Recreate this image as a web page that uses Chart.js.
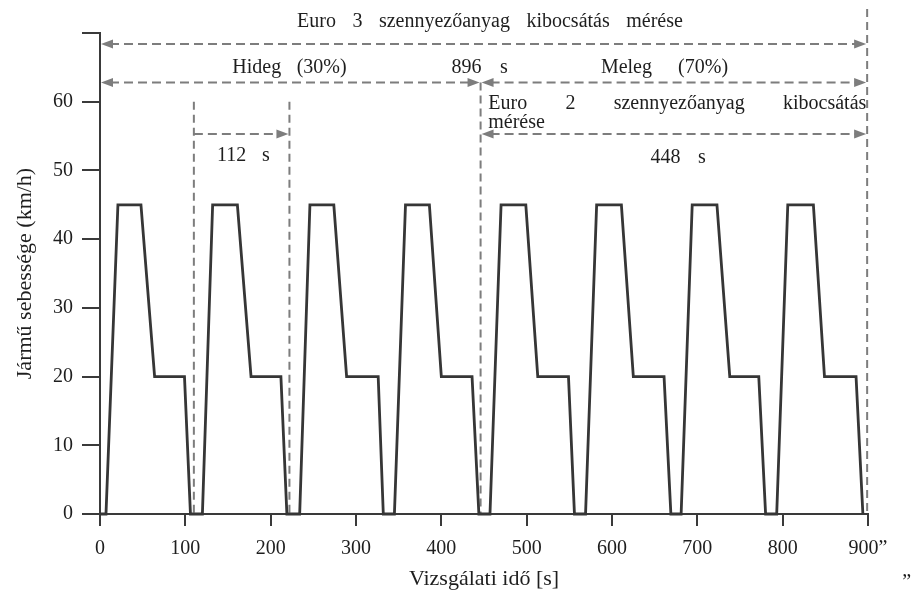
<!DOCTYPE html>
<html><head><meta charset="utf-8">
<script src="https://cdn.jsdelivr.net/npm/chart.js@4.4.1/dist/chart.umd.min.js"></script>
<style>html,body{margin:0;padding:0;background:#fff;}#wrap{width:923px;height:601px;position:relative;}</style>
</head><body><div id="wrap"><canvas id="c" width="923" height="601"></canvas></div>
<script>
// ---- data ----
const timeS = [
  0, 7, 21, 48, 64, 99, 106,
  120, 132, 161, 177, 212, 219,
  234, 246, 274, 289, 326, 332,
  345, 358, 386, 400, 436, 444,
  457, 470, 499, 513, 549, 556,
  569, 582, 611, 625, 661, 669,
  681, 694, 723, 738, 772, 780,
  793, 806, 836, 849, 886, 894
];
const speedKmh = [
  0, 0, 45, 45, 20, 20, 0,
  0, 45, 45, 20, 20, 0,
  0, 45, 45, 20, 20, 0,
  0, 45, 45, 20, 20, 0,
  0, 45, 45, 20, 20, 0,
  0, 45, 45, 20, 20, 0,
  0, 45, 45, 20, 20, 0,
  0, 45, 45, 20, 20, 0
];
const xTickValues = [0, 100, 200, 300, 400, 500, 600, 700, 800, 900];
const xTickLabels = ['0', '100', '200', '300', '400', '500', '600', '700', '800', '900\u201d'];
const yTickValues = [0, 10, 20, 30, 40, 50, 60];
const xTitle = 'Vizsgálati idő [s]';
const yTitle = 'Jármű sebessége (km/h)';
const markTimes = [110, 222, 446, 899];

// ---- annotation layout (data units) ----
const vLines = [
  {t: markTimes[0], v1: 60, v2: 0},
  {t: markTimes[1], v1: 60, v2: 0},
  {t: markTimes[2], v1: 62.8, v2: 0},
  {t: markTimes[3], v1: 73.5, v2: 0}
];
const arrows = [
  {t1: 0, t2: markTimes[3], v: 68.4, h1: true, h2: true},
  {t1: 0, t2: markTimes[2], v: 62.8, h1: true, h2: true},
  {t1: markTimes[2], t2: markTimes[3], v: 62.8, h1: true, h2: true},
  {t1: markTimes[0], t2: markTimes[1], v: 55.3, h1: false, h2: true},
  {t1: markTimes[2], t2: markTimes[3], v: 55.3, h1: true, h2: true}
];
const texts = [
  {s: 'Euro 3 szennyezőanyag kibocsátás mérése', t1: 231, t2: 683, v: 71.7},
  {s: 'Hideg (30%)', t1: 155, t2: 289, v: 64.9},
  {s: '896 s', t1: 412, t2: 478, v: 64.9},
  {s: 'Meleg (70%)', t1: 587, t2: 736, v: 64.9},
  {s: 'Euro 2 szennyezőanyag kibocsátás', t1: 455, t2: 898, v: 59.7},
  {s: 'mérése', t1: 455, t2: null, v: 56.9},
  {s: '112 s', t1: 137, t2: 199, v: 52.1},
  {s: '448 s', t1: 645, t2: 710, v: 51.9},
  {s: '\u201d', t1: 940, t2: null, v: -10}
];

const FONT = '"Liberation Serif", "DejaVu Serif", serif';
const DASH = '#7d7d7d';

function drawHead(ctx, x, y, dir) {
  ctx.beginPath();
  ctx.moveTo(x, y);
  ctx.lineTo(x - dir * 12, y - 4.5);
  ctx.lineTo(x - dir * 12, y + 4.5);
  ctx.closePath();
  ctx.fill();
}

const annot = {
  id: 'annot',
  beforeDatasetsDraw(chart) {
    const {ctx, scales: {x, y}} = chart;
    ctx.save();
    ctx.strokeStyle = DASH; ctx.fillStyle = DASH; ctx.lineWidth = 2;
    ctx.setLineDash([8, 5]);
    vLines.forEach(l => {
      const px = x.getPixelForValue(l.t);
      ctx.beginPath();
      ctx.moveTo(px, y.getPixelForValue(l.v1));
      ctx.lineTo(px, y.getPixelForValue(l.v2));
      ctx.stroke();
    });
    arrows.forEach(a => {
      const x1 = x.getPixelForValue(a.t1), x2 = x.getPixelForValue(a.t2), py = y.getPixelForValue(a.v);
      ctx.setLineDash([9, 5]);
      ctx.beginPath();
      ctx.moveTo(x1 + (a.h1 ? 10 : 0), py);
      ctx.lineTo(x2 - (a.h2 ? 10 : 0), py);
      ctx.stroke();
      ctx.setLineDash([]);
      if (a.h1) drawHead(ctx, x1 + 1, py, -1);
      if (a.h2) drawHead(ctx, x2 - 1, py, 1);
    });
    ctx.restore();
  },
  afterDraw(chart) {
    const {ctx, scales: {x, y}} = chart;
    ctx.save();
    ctx.fillStyle = '#1e1e1e';
    ctx.font = '20px ' + FONT;
    ctx.textBaseline = 'middle';
    ctx.textAlign = 'left';
    texts.forEach(tx => {
      const py = y.getPixelForValue(tx.v);
      const x1 = x.getPixelForValue(tx.t1);
      const words = tx.s.split(' ');
      if (tx.t2 === null || words.length === 1) {
        ctx.fillText(tx.s, x1, py);
        return;
      }
      const x2 = x.getPixelForValue(tx.t2);
      const widths = words.map(w => ctx.measureText(w).width);
      const sum = widths.reduce((a, b) => a + b, 0);
      const gap = (x2 - x1 - sum) / (words.length - 1);
      let cx = x1;
      words.forEach((w, i) => { ctx.fillText(w, cx, py); cx += widths[i] + gap; });
    });
    ctx.restore();
  }
};

new Chart(document.getElementById('c'), {
  type: 'scatter',
  data: {
    datasets: [{
      data: timeS.map((t, i) => ({x: t, y: speedKmh[i]})),
      showLine: true,
      borderColor: '#363636',
      borderWidth: 2.8,
      pointRadius: 0,
      tension: 0,
      fill: false,
      clip: false
    }]
  },
  options: {
    responsive: false,
    animation: false,
    devicePixelRatio: 1,
    layout: {padding: {top: 33, right: 55, left: 0, bottom: 0}},
    plugins: {legend: {display: false}, tooltip: {enabled: false}},
    scales: {
      x: {
        type: 'linear', min: 0, max: 900,
        afterFit: s => { s.height = 87; },
        afterBuildTicks: s => { s.ticks = xTickValues.map(v => ({value: v})); },
        ticks: {
          color: '#1e1e1e', padding: 11, maxRotation: 0, autoSkip: false,
          font: {family: FONT, size: 20},
          callback: v => { const i = xTickValues.indexOf(v); return i >= 0 ? xTickLabels[i] : ''; }
        },
        grid: {drawOnChartArea: false, drawTicks: true, tickLength: 12, color: '#3a3a3a', lineWidth: 2},
        border: {display: true, color: '#3a3a3a', width: 2},
        title: {display: true, text: xTitle, color: '#1e1e1e', font: {family: FONT, size: 22}, padding: {top: 0, bottom: 9}}
      },
      y: {
        type: 'linear', min: 0, max: 70,
        afterFit: s => { s.width = 100; },
        ticks: {
          stepSize: 10, color: '#1e1e1e', padding: 9,
          font: {family: FONT, size: 20},
          callback: v => yTickValues.includes(v) ? String(v) : ''
        },
        grid: {drawOnChartArea: false, drawTicks: true, tickLength: 18, color: '#3a3a3a', lineWidth: 2},
        border: {display: true, color: '#3a3a3a', width: 2},
        title: {display: true, text: yTitle, color: '#1e1e1e', font: {family: FONT, size: 22}, padding: {top: 12, bottom: 0}}
      }
    }
  },
  plugins: [annot]
});
</script>
</body></html>
